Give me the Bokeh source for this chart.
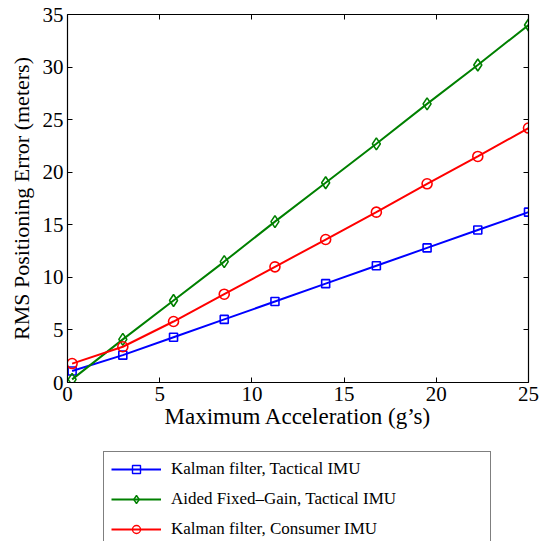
from bokeh.plotting import figure
from bokeh.layouts import column
from bokeh.models import LinearAxis, Legend, LegendItem, FixedTicker, Range1d
from bokeh.embed import file_html
from bokeh.resources import INLINE

accel = [0.25, 3.0, 5.75, 8.5, 11.25, 14.0, 16.75, 19.5, 22.25, 25.0]
kalman_tactical = [1.1, 2.6, 4.3, 6.0, 7.7, 9.4, 11.1, 12.8, 14.5, 16.2]
fixed_gain_tactical = [0.3, 4.1, 7.8, 11.5, 15.3, 19.0, 22.7, 26.5, 30.2, 34.0]
kalman_consumer = [1.8, 3.4, 5.8, 8.4, 11.0, 13.6, 16.2, 18.9, 21.5, 24.2]
series_names = ["Kalman filter, Tactical IMU",
                "Aided Fixed\u2013Gain, Tactical IMU",
                "Kalman filter, Consumer IMU"]

x_ticks = [0, 5, 10, 15, 20, 25]
y_ticks = [0, 5, 10, 15, 20, 25, 30, 35]

FONT = "Liberation Serif"
blue, green, red = "#0000ff", "#008000", "#ff0000"
NAN = float("nan")

p = figure(width=548, height=450, x_range=Range1d(0, 25), y_range=Range1d(0, 35),
           output_backend="svg", toolbar_location=None,
           min_border_left=67, min_border_right=20, min_border_top=14,
           min_border_bottom=68, x_axis_location=None, y_axis_location=None)
p.outline_line_color = None
p.grid.visible = False
p.background_fill_color = "white"
p.border_fill_color = "white"

def style_axis(ax, labels=True):
    ax.axis_line_color = "black"
    ax.axis_line_width = 1.2
    ax.major_tick_in = 5
    ax.major_tick_out = 0
    ax.minor_tick_line_color = None
    ax.major_tick_line_color = "black"
    if labels:
        ax.major_label_text_font = FONT
        ax.major_label_text_font_size = "21px"
        ax.major_label_text_color = "black"
        ax.major_label_standoff = 4
        ax.axis_label_text_font = FONT
        ax.axis_label_text_font_size = "22px"
        ax.axis_label_text_font_style = "normal"
        ax.axis_label_text_color = "black"
    else:
        ax.major_label_text_font_size = "1px"
        ax.major_label_text_color = None
        ax.major_label_standoff = 0

xb = LinearAxis(ticker=FixedTicker(ticks=x_ticks), axis_label="Maximum Acceleration (g\u2019s)")
style_axis(xb)
xb.axis_label_standoff = 0
xb.axis_label_text_font_size = "23px"
yl = LinearAxis(ticker=FixedTicker(ticks=y_ticks), axis_label="RMS Positioning Error (meters)")
style_axis(yl)
yl.axis_label_standoff = 6
xt = LinearAxis(ticker=FixedTicker(ticks=x_ticks))
style_axis(xt, labels=False)
yr = LinearAxis(ticker=FixedTicker(ticks=y_ticks))
style_axis(yr, labels=False)
p.add_layout(xb, "below")
p.add_layout(yl, "left")
p.add_layout(xt, "above")
p.add_layout(yr, "right")

line_kw = dict(line_width=2)
mk = [dict(marker="square", size=8), dict(marker="diamond", size=12), dict(marker="circle", size=10)]
colors = [blue, green, red]
series = [kalman_tactical, fixed_gain_tactical, kalman_consumer]

for ys, c, m in zip(series, colors, mk):
    p.line(accel, ys, line_color=c, **line_kw)
    p.scatter(accel, ys, line_color=c, fill_color=None, line_width=1.6, **m)

# legend panel below the chart (its frame is aligned with the chart frame)
lg = figure(width=548, height=91, x_range=Range1d(0, 1), y_range=Range1d(0, 1),
            output_backend="svg", toolbar_location=None,
            min_border_left=0, min_border_right=0, min_border_top=0, min_border_bottom=0,
            x_axis_location=None, y_axis_location=None)
lg.outline_line_color = None
lg.grid.visible = False
lg.border_fill_color = "white"

items = []
for name, c, m in zip(series_names, colors, mk):
    lr = lg.line([NAN], [NAN], line_color=c, **line_kw)
    sr = lg.scatter([NAN], [NAN], line_color=c, fill_color=None, line_width=1.4,
                    marker=m["marker"], size=6)
    items.append(LegendItem(label=name, renderers=[lr, sr]))

legend = Legend(items=items, location=(36, -6))
legend.border_line_color = "black"
legend.border_line_width = 1.2
legend.background_fill_color = "white"
legend.background_fill_alpha = 1
legend.padding = 7
legend.margin = 0
legend.spacing = 10
legend.glyph_width = 50
legend.glyph_height = 20
legend.label_height = 20
legend.label_standoff = 10
legend.label_width = 312
legend.label_text_font = FONT
legend.label_text_font_size = "17px"
legend.label_text_color = "black"
lg.add_layout(legend)

layout = column(p, lg, spacing=0)
open("out.html", "w").write(file_html(layout, INLINE))
